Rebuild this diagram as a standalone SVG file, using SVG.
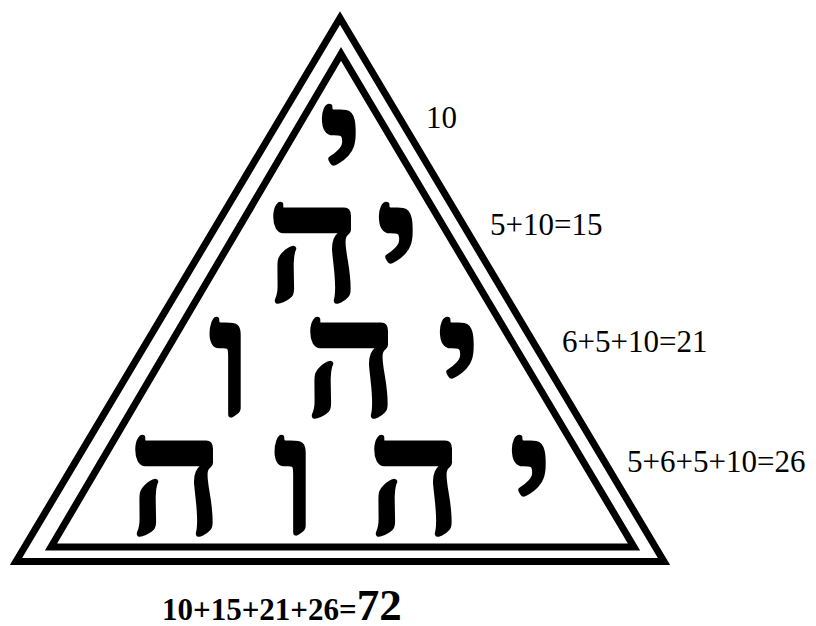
<svg xmlns="http://www.w3.org/2000/svg" width="816" height="626" viewBox="0 0 816 626">
<style>
.tri{fill:none;stroke:#000;stroke-width:7;stroke-linejoin:miter;stroke-miterlimit:10}
.heb{font-family:"Liberation Serif","DejaVu Serif",serif;font-weight:bold;font-size:165px;fill:#000;stroke:#000;stroke-width:3;stroke-linejoin:round;text-anchor:middle}
.lbl{font-family:"Liberation Serif","Times New Roman",serif;font-size:31px;fill:#000}
.sum{font-family:"Liberation Serif","Times New Roman",serif;font-weight:bold;font-size:31px;fill:#000}
</style>
<rect width="816" height="626" fill="#fff"/>
<g id="triangle">
<polygon class="tri" points="340,18 16,561.5 664,561.5"/>
<polygon class="tri" points="341,54 51,547 634,547"/>
</g>
<g id="row1">
<text class="heb" x="341" y="202">י</text>
</g>
<g id="row2">
<text class="heb" x="314" y="300">ה</text>
<text class="heb" x="398" y="300">י</text>
</g>
<g id="row3">
<text class="heb" x="230" y="415">ו</text>
<text class="heb" x="351" y="415">ה</text>
<text class="heb" x="459" y="415">י</text>
</g>
<g id="row4">
<text class="heb" x="176" y="533">ה</text>
<text class="heb" x="295" y="533">ו</text>
<text class="heb" x="415" y="533">ה</text>
<text class="heb" x="531" y="533">י</text>
</g>
<g id="labels">
<text class="lbl" x="426" y="128">10</text>
<text class="lbl" x="490" y="235">5+10=15</text>
<text class="lbl" x="562" y="352">6+5+10=21</text>
<text class="lbl" x="627" y="472">5+6+5+10=26</text>
</g>
<g id="total">
<text class="sum" x="162" y="620">10+15+21+26=<tspan font-size="45">72</tspan></text>
</g>
</svg>
